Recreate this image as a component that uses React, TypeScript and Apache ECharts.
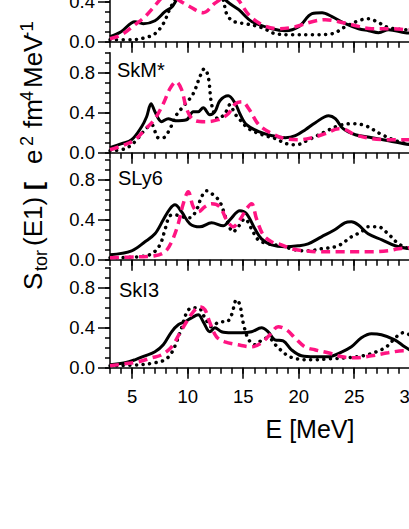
import { useEffect, useRef } from 'react';
import * as echarts from 'echarts';

// ---- axis / tick data ----
const X_MIN = 3;
const X_MAX = 31;
const X_MAJOR = [5, 10, 15, 20, 25, 30];
const Y_MAJOR = [0, 0.4, 0.8];
const PANEL_NAMES = ['', 'SkM*', 'SLy6', 'SkI3'];

// ---- series data: [E (MeV), S_tor (e^2 fm^4 MeV^-1)] ----
// top panel (name cut off)
const P1_SOLID = [[3,0.05],[4,0.1],[5.25,0.2],[6,0.18],[7.05,0.21],[7.95,0.3],[8.6,0.35],[9,0.42],[9.6,0.52],[10.5,0.6],[11.5,0.58],[12.5,0.6],[13.4,0.42],[14.6,0.32],[15.8,0.2],[17.6,0.13],[18.8,0.11],[20,0.15],[21.2,0.28],[22.1,0.29],[23,0.25],[24.2,0.18],[25.4,0.13],[26.3,0.11],[27.2,0.09],[28.1,0.12],[29.6,0.09],[31,0.08]];
const P1_DOTTED = [[3,0.02],[4.95,0.02],[6.15,0.04],[7.05,0.08],[7.8,0.18],[8.4,0.33],[8.85,0.42],[9.5,0.55],[10.5,0.5],[11.5,0.55],[12.5,0.6],[13.2,0.42],[13.5,0.28],[14,0.21],[14.6,0.19],[15.2,0.18],[16.7,0.14],[17.9,0.08],[19.4,0.07],[21.2,0.07],[23,0.08],[24.2,0.15],[25.4,0.21],[26.3,0.23],[27.2,0.19],[28.1,0.14],[29.6,0.12],[31,0.11]];
const P1_DASHED = [[3,0.03],[4.05,0.07],[5.25,0.17],[6.15,0.25],[7.2,0.38],[7.5,0.42],[8.2,0.5],[9.15,0.42],[10.05,0.36],[11.4,0.29],[12.4,0.38],[12.9,0.42],[13.7,0.5],[14.55,0.42],[15.5,0.27],[16.7,0.17],[18.2,0.13],[19.7,0.15],[21.2,0.2],[22.4,0.22],[23.6,0.2],[24.8,0.17],[26.6,0.13],[28.4,0.13],[30,0.12],[31,0.12]];
// SkM*
const P2_SOLID = [[3,0.05],[4.05,0.09],[4.95,0.13],[5.85,0.26],[6.3,0.36],[6.7,0.49],[7.05,0.41],[7.65,0.31],[8.25,0.34],[8.85,0.32],[9.9,0.33],[10.5,0.41],[10.95,0.41],[11.4,0.45],[12,0.38],[12.45,0.41],[12.9,0.52],[13.65,0.57],[14.3,0.49],[14.7,0.39],[15.3,0.28],[16.4,0.21],[17.6,0.17],[18.8,0.15],[19.7,0.17],[20.6,0.23],[21.5,0.3],[22.7,0.37],[23.3,0.34],[24,0.24],[25.1,0.18],[26.6,0.15],[28.1,0.12],[30,0.08],[31,0.07]];
const P2_DOTTED = [[3,0.02],[4.35,0.04],[5.25,0.11],[6.15,0.23],[6.75,0.28],[7.35,0.15],[7.8,0.15],[8.4,0.24],[9,0.38],[9.75,0.48],[10.5,0.59],[11.1,0.76],[11.5,0.84],[11.85,0.76],[12.2,0.46],[12.75,0.34],[13.35,0.39],[13.8,0.48],[14.25,0.39],[14.7,0.33],[15.5,0.24],[16.7,0.18],[17.9,0.14],[18.9,0.09],[19.8,0.08],[20.9,0.13],[22.4,0.21],[23.6,0.27],[24.8,0.29],[26,0.27],[27.5,0.18],[29,0.11],[30,0.09],[31,0.08]];
const P2_DASHED = [[3,0.03],[4.35,0.08],[5.25,0.13],[6.15,0.23],[7.05,0.34],[7.8,0.49],[8.4,0.64],[8.95,0.71],[9.45,0.63],[9.9,0.44],[10.5,0.33],[11.55,0.31],[12.75,0.33],[13.65,0.39],[14.3,0.49],[14.9,0.51],[15.5,0.44],[16.4,0.28],[17.6,0.19],[18.8,0.14],[20,0.13],[21.2,0.15],[22.4,0.19],[23.6,0.24],[24.2,0.23],[25.1,0.18],[26.6,0.14],[28.1,0.13],[30,0.13],[31,0.13]];
// SLy6
const P3_SOLID = [[3,0.05],[4.95,0.09],[6.15,0.18],[7.05,0.26],[7.8,0.4],[8.4,0.51],[8.85,0.55],[9.45,0.48],[10.2,0.36],[11.1,0.33],[12.15,0.37],[13.2,0.34],[13.8,0.4],[14.7,0.49],[15.3,0.46],[16.05,0.31],[16.65,0.21],[17.55,0.15],[18.75,0.13],[19.95,0.14],[20.85,0.16],[22.05,0.23],[23.25,0.3],[24.15,0.37],[24.75,0.38],[25.35,0.35],[26.25,0.26],[27.5,0.2],[28.7,0.14],[30,0.11],[31,0.1]];
const P3_DOTTED = [[3,0.02],[5.55,0.03],[6.75,0.06],[7.5,0.15],[7.95,0.3],[8.4,0.44],[8.85,0.45],[9.45,0.43],[10.2,0.42],[10.8,0.5],[11.25,0.63],[11.7,0.69],[12.3,0.65],[12.9,0.58],[13.5,0.4],[14.1,0.28],[14.55,0.33],[15.15,0.41],[15.75,0.31],[16.35,0.2],[17.25,0.16],[18.45,0.14],[19.65,0.1],[20.85,0.09],[22.05,0.11],[23.55,0.14],[24.75,0.23],[25.65,0.28],[26.25,0.33],[27.15,0.33],[28.05,0.26],[29,0.16],[30,0.11],[31,0.1]];
const P3_DASHED = [[3,0.02],[5.55,0.03],[7.05,0.04],[7.95,0.08],[8.55,0.18],[9.15,0.36],[9.6,0.56],[10.05,0.68],[10.5,0.53],[10.95,0.48],[11.55,0.53],[12.15,0.56],[12.9,0.53],[13.5,0.4],[14.1,0.33],[14.7,0.4],[15.3,0.51],[15.75,0.56],[16.2,0.41],[16.8,0.25],[17.55,0.18],[18.45,0.15],[19.35,0.11],[20.55,0.09],[22.05,0.08],[23.55,0.08],[25.05,0.08],[26.55,0.08],[28.05,0.09],[29,0.11],[30,0.12],[31,0.12]];
// SkI3
const P4_SOLID = [[3,0.03],[4.35,0.05],[5.25,0.08],[6.15,0.12],[7.05,0.16],[7.8,0.23],[8.55,0.36],[9.15,0.43],[9.75,0.46],[10.35,0.5],[10.95,0.53],[11.4,0.46],[12,0.36],[12.45,0.4],[13.05,0.36],[13.95,0.35],[14.85,0.35],[15.75,0.36],[16.65,0.4],[17.25,0.36],[17.85,0.28],[18.6,0.27],[19.35,0.18],[20.25,0.12],[21.45,0.11],[22.65,0.11],[23.9,0.16],[24.75,0.21],[25.65,0.3],[26.55,0.34],[27.45,0.33],[28.65,0.28],[29.55,0.21],[30,0.18],[31,0.14]];
const P4_DOTTED = [[3,0.02],[5.55,0.03],[7.05,0.05],[7.95,0.08],[8.55,0.15],[9,0.26],[9.45,0.4],[9.9,0.55],[10.35,0.6],[10.95,0.6],[11.55,0.5],[12.15,0.41],[12.9,0.46],[13.5,0.46],[13.95,0.53],[14.4,0.68],[14.7,0.63],[15,0.45],[15.5,0.28],[16.1,0.23],[16.7,0.28],[17.3,0.3],[17.9,0.23],[18.9,0.13],[19.8,0.09],[21.3,0.08],[22.8,0.09],[24.3,0.1],[25.8,0.12],[27,0.16],[27.9,0.21],[28.8,0.31],[29.4,0.35],[30,0.33],[31,0.28]];
const P4_DASHED = [[3,0.02],[4.35,0.04],[5.55,0.06],[6.75,0.1],[7.65,0.13],[8.55,0.21],[9.3,0.35],[9.9,0.46],[10.5,0.56],[11.1,0.61],[11.55,0.58],[12,0.45],[12.6,0.31],[13.35,0.26],[14.55,0.23],[15.75,0.21],[16.65,0.25],[17.4,0.33],[18.15,0.41],[18.9,0.38],[19.65,0.3],[20.55,0.21],[21.45,0.18],[22.65,0.15],[23.9,0.11],[25.1,0.1],[26.55,0.12],[28.05,0.15],[29.4,0.17],[30,0.17],[31,0.17]];

const PANELS = [
  { solid: P1_SOLID, dotted: P1_DOTTED, dashed: P1_DASHED },
  { solid: P2_SOLID, dotted: P2_DOTTED, dashed: P2_DASHED },
  { solid: P3_SOLID, dotted: P3_DOTTED, dashed: P3_DASHED },
  { solid: P4_SOLID, dotted: P4_DOTTED, dashed: P4_DASHED },
];

// ---- layout ----
const FONT = "'Liberation Sans', Arial, Helvetica, sans-serif";
const GRID_LEFT = 110;
const PX_PER_MEV = 11.1;
const GRID_TOPS = [-58.3, 52.7, 159.8, 267.8];
const GRID_H = 100;
const LABEL_POS = [null, { x: 117, y: 70 }, { x: 118, y: 178 }, { x: 119, y: 290 }];
const PINK = '#ff1482';

export default function App() {
  const ref = useRef<HTMLDivElement>(null);
  useEffect(() => {
    if (!ref.current) return;
    const chart = echarts.init(ref.current, undefined, { renderer: 'svg' });
    const axisColor = '#000';
    const tickStyle = { color: axisColor, width: 1.5 };

    const grids: any[] = [];
    const xAxes: any[] = [];
    const yAxes: any[] = [];
    const series: any[] = [];

    PANELS.forEach((p, i) => {
      grids.push({
        left: GRID_LEFT,
        top: GRID_TOPS[i],
        width: (X_MAX - X_MIN) * PX_PER_MEV,
        height: GRID_H,
        containLabel: false,
        outerBoundsMode: 'none',
      });
      xAxes.push({
        type: 'value', gridIndex: i, min: X_MIN, max: X_MAX, interval: 1, position: 'bottom',
        axisLine: { show: true, onZero: false, lineStyle: { color: axisColor, width: 1.5 } },
        axisTick: { show: true, length: 6, lineStyle: tickStyle },
        axisLabel: { show: false },
        splitLine: { show: false },
      });
      xAxes.push({
        type: 'value', gridIndex: i, min: X_MIN, max: X_MAX, position: 'bottom',
        axisLine: { show: false, onZero: false },
        axisTick: { show: true, length: 11, customValues: X_MAJOR, lineStyle: tickStyle },
        axisLabel: {
          show: i === 3, customValues: X_MAJOR, margin: 19, fontSize: 18.5,
          color: '#000', fontFamily: FONT,
        },
        splitLine: { show: false },
      });
      yAxes.push({
        type: 'value', gridIndex: i, min: 0, max: 1, interval: 0.1, position: 'left',
        axisLine: { show: true, onZero: false, lineStyle: { color: axisColor, width: 1.5 } },
        axisTick: { show: true, length: 5, lineStyle: tickStyle },
        axisLabel: { show: false },
        splitLine: { show: false },
      });
      yAxes.push({
        type: 'value', gridIndex: i, min: 0, max: 1, position: 'left',
        axisLine: { show: false, onZero: false },
        axisTick: { show: true, length: 12, customValues: Y_MAJOR, lineStyle: tickStyle },
        axisLabel: {
          show: true, customValues: Y_MAJOR, margin: 15, fontSize: 18.5, color: '#000',
          fontFamily: FONT, formatter: (v: number) => v.toFixed(1),
        },
        splitLine: { show: false },
      });
      const common = { type: 'line', xAxisIndex: 2 * i, yAxisIndex: 2 * i, showSymbol: false, smooth: 0.35, silent: true };
      series.push({ ...common, data: p.solid, lineStyle: { color: '#000', width: 3, type: 'solid', join: 'round' }, z: 3 });
      series.push({ ...common, data: p.dotted, lineStyle: { color: '#000', width: 3.5, type: [0.1, 6.5], cap: 'round' }, z: 4 });
      series.push({ ...common, data: p.dashed, lineStyle: { color: PINK, width: 3.5, type: [9, 5.5] }, z: 5 });
    });

    const graphic: any[] = [];
    PANEL_NAMES.forEach((name, i) => {
      const pos = LABEL_POS[i];
      if (!name || !pos) return;
      graphic.push({
        type: 'text', x: pos.x, y: pos.y, silent: true,
        style: { text: name, fontSize: 20, fontFamily: FONT, fill: '#000', textAlign: 'left', textVerticalAlign: 'middle' },
      });
    });
    // x-axis title
    graphic.push({
      type: 'text', x: 310, y: 429, silent: true,
      style: { text: 'E [MeV]', fontSize: 25, fontFamily: FONT, fill: '#000', textAlign: 'center', textVerticalAlign: 'middle' },
    });
    // y-axis title pieces (rotated, reading bottom to top)
    const yTitle = [
      { t: 'S', y: 290, x: 33, fs: 26 },
      { t: 'tor', y: 271, x: 41, fs: 18 },
      { t: '(E1)', y: 246, x: 33, fs: 26 },
      { t: '[', y: 190, x: 33, fs: 24, bold: true },
      { t: 'e', y: 164, x: 33, fs: 26 },
      { t: '2', y: 146, x: 26.5, fs: 18 },
      { t: 'fm', y: 128, x: 33, fs: 26 },
      { t: '4', y: 101, x: 26.5, fs: 18 },
      { t: 'MeV', y: 88, x: 33, fs: 26 },
      { t: '-1', y: 38, x: 26.5, fs: 19 },
    ];
    yTitle.forEach((p) => {
      graphic.push({
        type: 'text', x: p.x, y: p.y, rotation: Math.PI / 2, silent: true,
        style: {
          text: p.t, fontSize: p.fs, fontFamily: FONT, fill: '#000',
          fontWeight: p.bold ? 'bold' : 'normal', textAlign: 'left', textVerticalAlign: 'middle',
        },
      });
    });

    chart.setOption({
      animation: false,
      backgroundColor: '#fff',
      grid: grids,
      xAxis: xAxes,
      yAxis: yAxes,
      series,
      graphic,
    });
    return () => chart.dispose();
  }, []);

  return (
    <div
      ref={ref}
      style={{ position: 'absolute', left: 0, top: 0, width: 409, height: 529, background: '#fff' }}
    />
  );
}
